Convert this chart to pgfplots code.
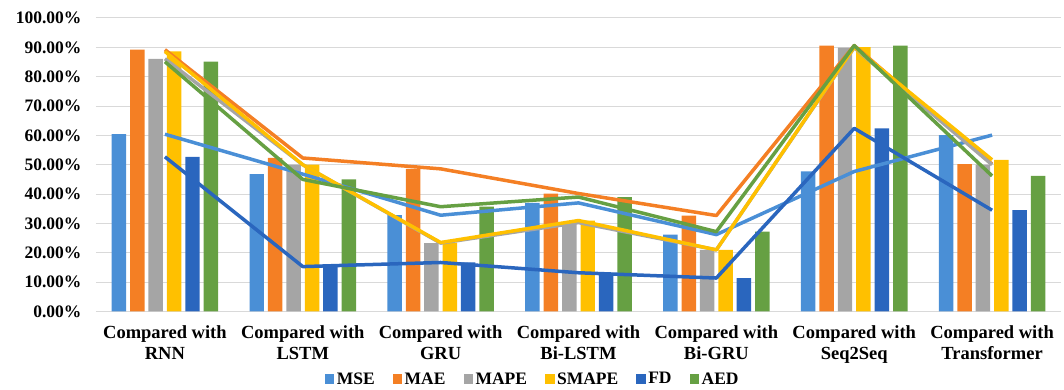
\documentclass[border=0pt]{standalone}
\usepackage{fontspec}
\setmainfont{Liberation Serif}
\usepackage{pgfplots}
\usepackage{pgfplotstable}
\pgfplotsset{compat=1.18}

\definecolor{cMSE}{HTML}{4A8FD6}
\definecolor{cMAE}{HTML}{F47F24}
\definecolor{cMAPE}{HTML}{A5A5A5}
\definecolor{cSMAPE}{HTML}{FFC000}
\definecolor{cFD}{HTML}{2A66BE}
\definecolor{cAED}{HTML}{66A043}
\definecolor{gridgray}{HTML}{D9D9D9}

% improvement (%) of the proposed model over each baseline
\pgfplotstableread{
x MSE MAE MAPE SMAPE FD AED
0 60.4 89.2 86.1 88.6 52.7 85.1
1 46.8 52.3 50.0 50.0 15.3 45.0
2 32.8 48.6 23.3 23.5 16.7 35.7
3 37.0 40.2 30.3 31.0 13.2 39.0
4 26.2 32.7 21.0 21.0 11.4 27.2
5 47.7 90.6 89.9 90.1 62.4 90.6
6 60.1 50.2 50.0 51.7 34.5 46.2
}\datatable

\begin{document}
\begin{tikzpicture}
\useasboundingbox (-96pt,-78.5pt) rectangle (968pt,311.5pt);
\begin{axis}[
  scale only axis,
  width=965pt, height=293.5pt,
  xmin=-0.5, xmax=6.5, ymin=0, ymax=100,
  axis line style={draw=none},
  major tick length=0pt,
  ytick={0,10,...,100},
  ymajorgrids,
  grid style={draw=gridgray, line width=1pt},
  /pgf/number format/assume math mode=true,
  yticklabel={\pgfmathprintnumber[fixed,fixed zerofill,precision=2]{\tick}\%},
  yticklabel style={font=\fontsize{17.5}{20}\selectfont\bfseries, xshift=-11pt},
  xtick={0,...,6},
  xticklabels={{Compared with\\RNN},{Compared with\\LSTM},{Compared with\\GRU},
    {Compared with\\Bi-LSTM},{Compared with\\Bi-GRU},{Compared with\\Seq2Seq},
    {Compared with\\Transformer}},
  xticklabel style={font=\fontsize{18.5}{20.5}\selectfont\bfseries, align=center, yshift=-11pt},
  legend columns=-1,
  legend style={at={(0.452,-0.23)}, anchor=center, draw=none, fill=none,
    font=\fontsize{17.5}{20}\selectfont\bfseries,
    column sep=0pt,
    /tikz/every odd column/.append style={column sep=1.5pt},
    /tikz/every even column/.append style={column sep=17pt},
    nodes={inner sep=1pt}},
  legend image code/.code={\fill[#1] (0pt,-4.75pt) rectangle (9.5pt,4.75pt);},
]
% grouped bars
\addplot[ybar, bar width=0.105, bar shift=-0.334, fill=cMSE, draw=none] table[x=x,y=MSE]{\datatable};
\addplot[ybar, bar width=0.105, bar shift=-0.200, fill=cMAE, draw=none] table[x=x,y=MAE]{\datatable};
\addplot[ybar, bar width=0.105, bar shift=-0.067, fill=cMAPE, draw=none] table[x=x,y=MAPE]{\datatable};
\addplot[ybar, bar width=0.105, bar shift=0.067, fill=cSMAPE, draw=none] table[x=x,y=SMAPE]{\datatable};
\addplot[ybar, bar width=0.105, bar shift=0.200, fill=cFD, draw=none] table[x=x,y=FD]{\datatable};
\addplot[ybar, bar width=0.105, bar shift=0.334, fill=cAED, draw=none] table[x=x,y=AED]{\datatable};
\legend{MSE,MAE,MAPE,SMAPE,FD,AED}
% trend lines through the category centres
\addplot[cMSE, line width=3.5pt, mark=none, line join=round, forget plot] table[x=x,y=MSE]{\datatable};
\addplot[cMAE, line width=3.5pt, mark=none, line join=round, forget plot] table[x=x,y=MAE]{\datatable};
\addplot[cMAPE, line width=3.5pt, mark=none, line join=round, forget plot] table[x=x,y=MAPE]{\datatable};
\addplot[cSMAPE, line width=3.5pt, mark=none, line join=round, forget plot] table[x=x,y=SMAPE]{\datatable};
\addplot[cFD, line width=3.5pt, mark=none, line join=round, forget plot] table[x=x,y=FD]{\datatable};
\addplot[cAED, line width=3.5pt, mark=none, line join=round, forget plot] table[x=x,y=AED]{\datatable};
\end{axis}
\end{tikzpicture}
\end{document}
